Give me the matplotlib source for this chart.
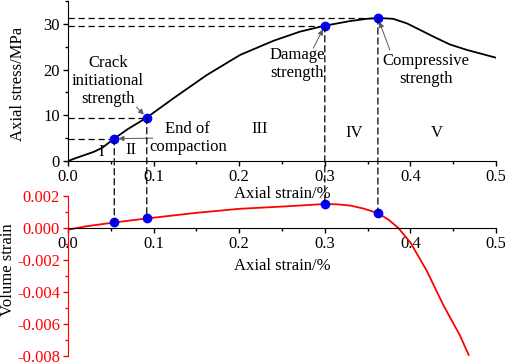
import matplotlib.pyplot as plt
from matplotlib.patches import ConnectionPatch
from matplotlib.ticker import MultipleLocator

plt.rcParams['font.family'] = ['Liberation Serif', 'DejaVu Serif']
plt.rcParams['font.size'] = 12
plt.rcParams['axes.unicode_minus'] = False

# stress-strain curve (axial strain %, MPa)
strain = [0, 0.01, 0.02, 0.03, 0.04, 0.054, 0.07, 0.092, 0.123, 0.162, 0.201, 0.24,
          0.271, 0.3, 0.329, 0.349, 0.362, 0.38, 0.396, 0.411, 0.427, 0.446, 0.466, 0.5]
stress = [0, 0.7, 1.35, 2.0, 2.9, 4.9, 7.0, 9.5, 13.7, 18.8, 23.2, 26.3,
          28.3, 29.6, 30.6, 31.1, 31.3, 31.1, 30.1, 28.7, 27.2, 25.5, 24.3, 22.6]

# volume strain curve
vstrain = [0, 0.02, 0.054, 0.092, 0.15, 0.2, 0.25, 0.3, 0.315, 0.33, 0.345, 0.362,
           0.375, 0.386, 0.4, 0.419, 0.4385, 0.458, 0.468]
volume = [-0.0001, 0.0001, 0.00035, 0.0006, 0.00095, 0.0012, 0.00134, 0.0015, 0.00148,
          0.0014, 0.00122, 0.00093, 0.0005, 0.0, -0.0009, -0.00265, -0.0048, -0.0067, -0.0079]

# characteristic points
key_strain = [0.054, 0.092, 0.300, 0.362]
key_stress = [4.9, 9.5, 29.6, 31.3]
key_volume = [0.00035, 0.0006, 0.0015, 0.00093]

stage_labels = ['I', 'II', 'III', 'IV', 'V']
stage_x = [0.039, 0.074, 0.224, 0.334, 0.431]
stage_y = [2.0, 2.4, 7.0, 6.1, 6.1]

fig = plt.figure(figsize=(5.05, 3.62), dpi=100)
ax1 = fig.add_axes([0.1347, 0.5552, 0.8475, 0.4420])
ax2 = fig.add_axes([0.1347, 0.0152, 0.8475, 0.4434])
ax1.set_facecolor('none')
ax2.set_facecolor('none')

dash = (0, (5, 3))

# ---- top: stress ----
ax1.plot(strain, stress, color='black', lw=1.3)
for x, y in zip(key_strain, key_stress):
    ax1.plot([0, x], [y, y], color='black', lw=0.9, ls=dash)
ax1.plot(key_strain, key_stress, 'o', color='blue', ms=6, zorder=5)
ax1.set_xlim(0, 0.5)
ax1.set_ylim(0, 35)
ax1.xaxis.set_major_locator(MultipleLocator(0.1))
ax1.xaxis.set_minor_locator(MultipleLocator(0.05))
ax1.yaxis.set_major_locator(MultipleLocator(10))
ax1.yaxis.set_minor_locator(MultipleLocator(5))
ax1.xaxis.set_major_formatter(lambda v, p: f'{v:.1f}')
for s in ['top', 'right']:
    ax1.spines[s].set_visible(False)
ax1.tick_params(which='major', length=3.3, width=1, pad=2.5)
ax1.tick_params(which='minor', length=2, width=1)
ax1.set_xlabel('Axial strain/%', labelpad=1)
ax1.set_ylabel('Axial stress/MPa')
ax1.yaxis.set_label_coords(-0.099, 0.484)

arrow = dict(arrowstyle='-|>', color='0.35', lw=0.7, mutation_scale=8, shrinkA=0, shrinkB=3)
ax1.text(0.0467, 17.5, 'Crack\ninitiational\nstrength', ha='center', va='center')
ax1.annotate('', xy=(key_strain[1], key_stress[1]), xytext=(0.080, 11.8), arrowprops=arrow)
ax1.annotate('', xy=(key_strain[0], key_stress[0]), xytext=(0.099, 5.0), arrowprops=arrow)
ax1.text(0.140, 5.0, 'End of\ncompaction', ha='center', va='center')
ax1.text(0.2675, 21.2, 'Damage\nstrength', ha='center', va='center')
ax1.annotate('', xy=(key_strain[2], key_stress[2]), xytext=(0.2866, 24.7), arrowprops=arrow)
ax1.text(0.418, 19.9, 'Compressive\nstrength', ha='center', va='center')
ax1.annotate('', xy=(key_strain[3], key_stress[3]), xytext=(0.376, 24.3), arrowprops=arrow)
for lab, x, y in zip(stage_labels, stage_x, stage_y):
    ax1.text(x, y, lab, ha='center', va='center')

# ---- bottom: volume strain ----
ax2.plot(vstrain, volume, color='red', lw=1.3)
ax2.plot(key_strain, key_volume, 'o', color='blue', ms=6, zorder=5)
ax2.set_xlim(0, 0.5)
ax2.set_ylim(-0.008, 0.002)
ax2.xaxis.set_major_locator(MultipleLocator(0.1))
ax2.xaxis.set_minor_locator(MultipleLocator(0.05))
ax2.yaxis.set_major_locator(MultipleLocator(0.002))
ax2.yaxis.set_minor_locator(MultipleLocator(0.001))
ax2.xaxis.set_major_formatter(lambda v, p: f'{v:.1f}')
ax2.yaxis.set_major_formatter(lambda v, p: f'{v:.3f}'.replace('-0.000', '0.000'))
for s in ['top', 'right']:
    ax2.spines[s].set_visible(False)
ax2.spines['bottom'].set_position(('data', 0))
ax2.spines['left'].set_color('red')
ax2.tick_params(which='major', length=3.3, width=1, pad=2.5)
ax2.tick_params(which='minor', length=2, width=1)
ax2.tick_params(axis='y', which='both', colors='red')
ax2.set_xlabel('Axial strain/%')
ax2.xaxis.set_label_coords(0.5, 0.615)
ax2.set_ylabel('Volume strain')
ax2.yaxis.set_label_coords(-0.121, 0.54)

# vertical dashed links between the panels
for x, y1, y2 in zip(key_strain, key_stress, key_volume):
    con = ConnectionPatch(xyA=(x, y1), coordsA=ax1.transData,
                          xyB=(x, y2), coordsB=ax2.transData,
                          color='black', lw=0.9, ls=dash, zorder=1)
    fig.add_artist(con)

fig.savefig('out.png', dpi=100)
